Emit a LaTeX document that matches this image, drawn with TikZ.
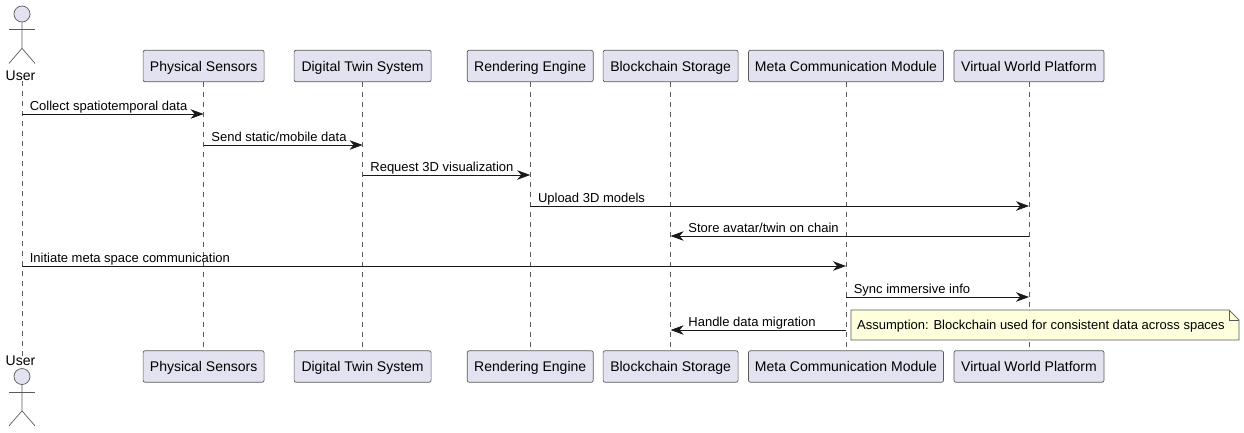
\documentclass[tikz,border=0pt]{standalone}
\usepackage{fontspec}
\setmainfont{Liberation Sans}
\usetikzlibrary{positioning,arrows.meta,calc,backgrounds}
\definecolor{boxfill}{HTML}{E2E2F0}
\definecolor{boxline}{HTML}{5A5A5A}
\definecolor{notefill}{HTML}{FEFFDD}
\colorlet{lifecolor}{boxline}

\begin{document}
\begin{tikzpicture}[x=1pt,y=-1pt]

    \tikzstyle{part}=[draw=boxline, fill=boxfill, rectangle, rounded corners=2pt, line width=0.7pt, minimum height=31.5pt, inner sep=0pt, text height=12pt, text depth=2pt, font=\fontsize{14}{16}\selectfont]
    \tikzstyle{actorlabel}=[inner sep=0pt, font=\fontsize{14}{16}\selectfont]
    \tikzstyle{head}=[draw=boxline, fill=boxfill, circle, minimum size=16pt, inner sep=0pt, line width=0.7pt]
    \tikzstyle{limb}=[draw=boxline, line width=0.7pt]
    \tikzstyle{life}=[draw=lifecolor, line width=0.6pt, dash pattern=on 5pt off 5pt]
    \tikzstyle{msg}=[draw=black!90, line width=0.8pt, -{Stealth[length=13pt,width=9.5pt,inset=4pt]}]
    \tikzstyle{lbl}=[inner sep=0pt, text height=9.5pt, text depth=2.5pt, font=\fontsize{13}{15}\selectfont]

    \useasboundingbox (0,0) rectangle (1244,432);

    % heads
    \node (userHead) [head] at (22,14) {};
    \node (userTop) [actorlabel] at (20.5,76) {User};
    \node (sensorsTop) [part, minimum width=121pt] at (203.6,66) {Physical Sensors};
    \node (twinTop) [part, minimum width=137pt] at (362.6,66) {Digital Twin System};
    \node (renderTop) [part, minimum width=126pt] at (530.2,66) {Rendering Engine};
    \node (chainTop) [part, minimum width=135pt] at (670.6,66) {Blockchain Storage};
    \node (metaTop) [part, minimum width=195pt] at (846,66) {Meta Communication Module};
    \node (worldTop) [part, minimum width=150pt] at (1029,66) {Virtual World Platform};

    % feet
    \node (userFoot) [actorlabel] at (20.5,361) {User};
    \node (userHeadB) [head] at (22,376.5) {};
    \node (sensorsFoot) [part, minimum width=121pt] at (203.6,366.5) {Physical Sensors};
    \node (twinFoot) [part, minimum width=137pt] at (362.6,366.5) {Digital Twin System};
    \node (renderFoot) [part, minimum width=126pt] at (530.2,366.5) {Rendering Engine};
    \node (chainFoot) [part, minimum width=135pt] at (670.6,366.5) {Blockchain Storage};
    \node (metaFoot) [part, minimum width=195pt] at (846,366.5) {Meta Communication Module};
    \node (worldFoot) [part, minimum width=150pt] at (1029,366.5) {Virtual World Platform};

    % stick figures
    \draw[limb] (userHead.south) -- ++(0,26) coordinate (hip) -- ++(-13,15) (hip) -- ++(13,15);
    \draw[limb] ($(userHead.south)+(-13,7)$) -- ++(26,0);
    \draw[limb] (userHeadB.south) -- ++(0,26) coordinate (hipB) -- ++(-13,15) (hipB) -- ++(13,15);
    \draw[limb] ($(userHeadB.south)+(-13,7.5)$) -- ++(26,0);

    % lifelines
    \begin{scope}[on background layer]
      \draw[life] (userHead |- userTop.south) -- (userHead |- userFoot.north);
      \foreach \who in {sensors,twin,render,chain,meta,world}
        \draw[life] (\who Top) -- (\who Foot);
    \end{scope}

    % messages
    \foreach \from/\to/\y/\txt in {
      userHead/sensorsTop/114/Collect spatiotemporal data,
      sensorsTop/twinTop/145/Send static\slash mobile data,
      twinTop/renderTop/175/Request 3D visualization,
      renderTop/worldTop/206/Upload 3D models,
      userHead/metaTop/266/Initiate meta space communication,
      metaTop/worldTop/297/Sync immersive info}
    {
      \coordinate (row) at (0,\y);
      \draw[msg] (\from |- row) -- (\to |- row);
      \node[lbl, anchor=south west] at ($(\from |- row)+(7.6,-1)$) {\txt};
    }
    \foreach \from/\to/\y/\txt in {
      worldTop/chainTop/236/Store avatar\slash twin on chain,
      metaTop/chainTop/330/Handle data migration}
    {
      \coordinate (row) at (0,\y);
      \draw[msg] (\from |- row) -- (\to |- row);
      \node[lbl, anchor=south west] at ($(\to |- row)+(17.6,-1)$) {\txt};
    }

    % note
    \draw[draw=boxline, fill=notefill, line width=0.7pt] (851,310) -- (1229,310) -- (1239,320) -- (1239,340) -- (851,340) -- cycle;
    \draw[draw=boxline, line width=0.7pt] (1229,310) -- (1229,320) -- (1239,320);
    \node (assumption) [lbl, anchor=west] at (857,326) {Assumption: Blockchain used for consistent data across spaces};

\end{tikzpicture}
\end{document}
